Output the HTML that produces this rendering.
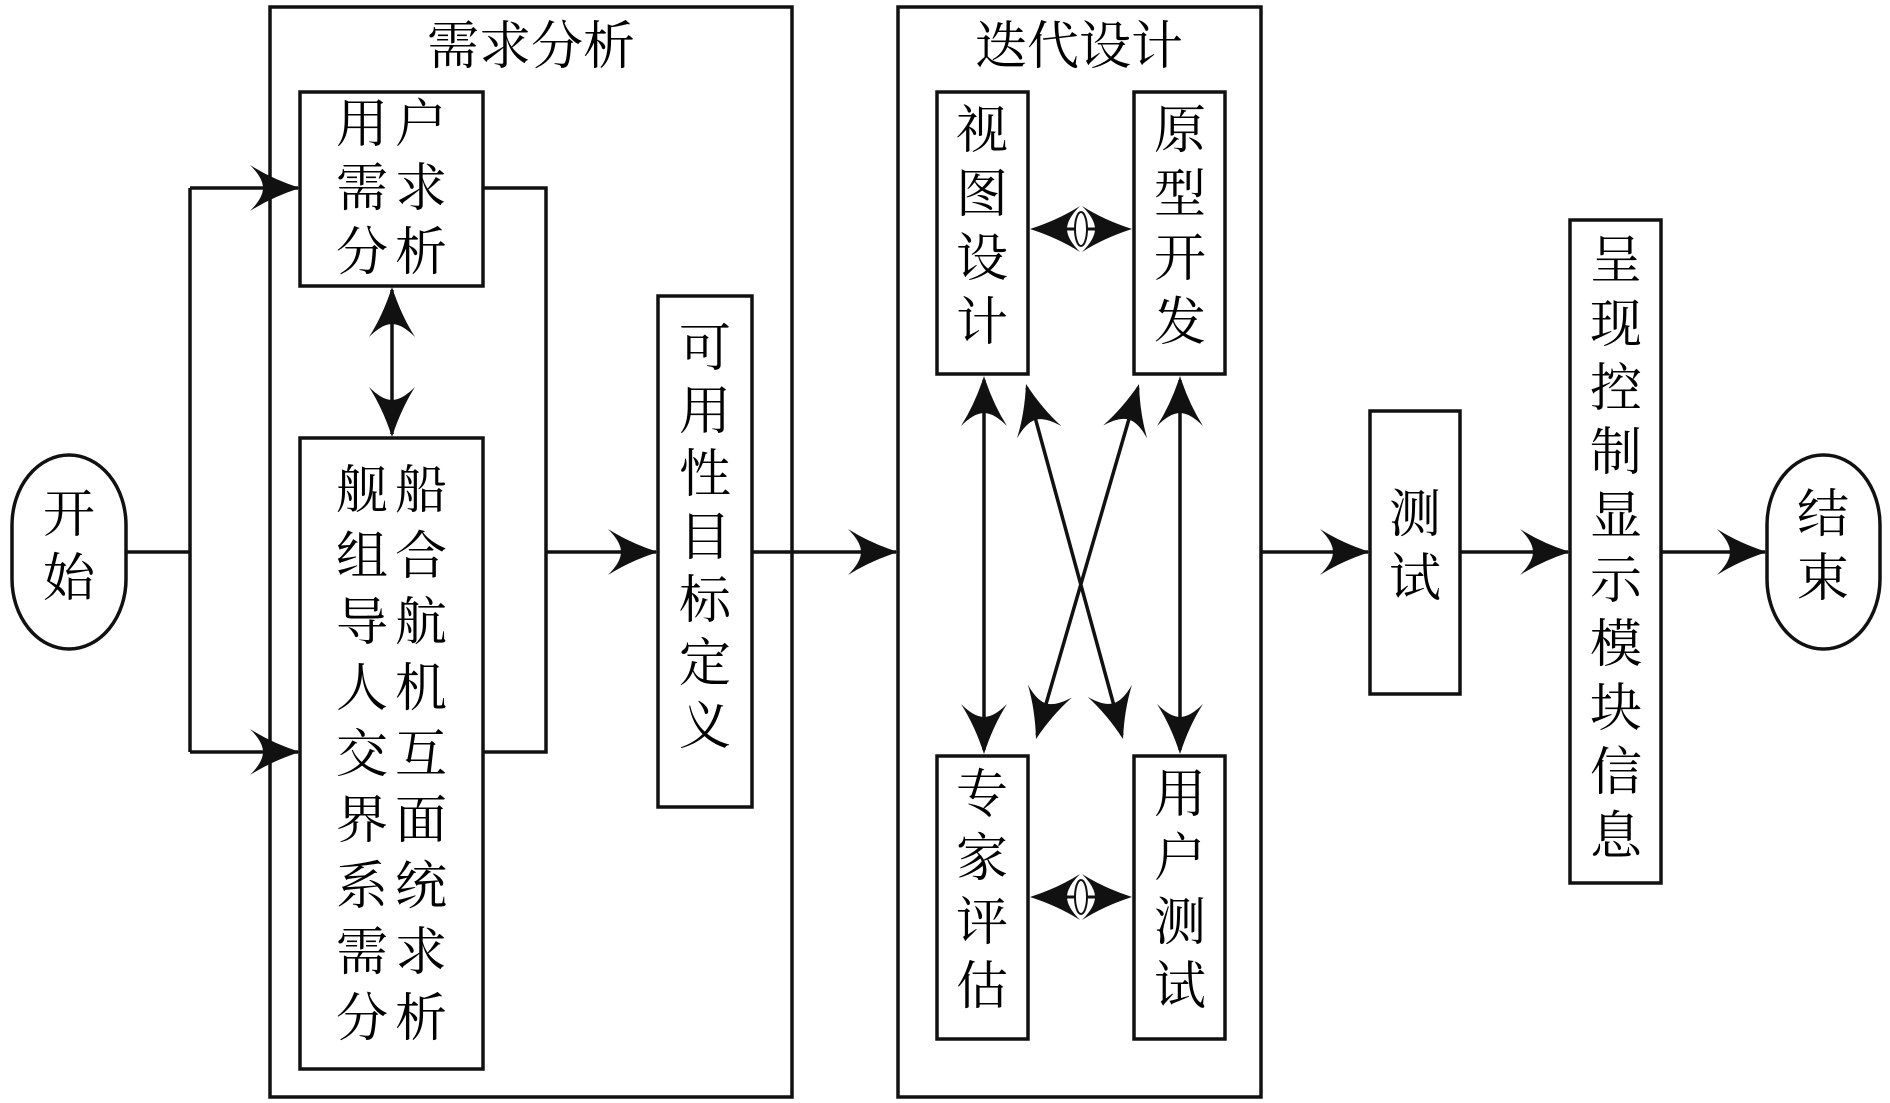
<!DOCTYPE html>
<html><head><meta charset="utf-8"><style>
html,body{margin:0;padding:0;background:#fff;}
body{width:1890px;height:1103px;position:relative;overflow:hidden;}
svg{position:absolute;left:0;top:0;}
text{font-family:"Liberation Serif","Noto Serif CJK SC",serif;font-size:52px;fill:#000;}
</style></head><body>
<svg width="1890" height="1103" viewBox="0 0 1890 1103">
<defs>
<path id="ah" d="M0,0 Q-28,-9 -50,-23 Q-37,-10 -37,0 Q-37,10 -50,23 Q-28,9 0,0Z" fill="#111"/>
</defs>
<g fill="none" stroke="#111" stroke-width="3.5">
<!-- ovals -->
<rect x="12" y="455" width="114" height="194" rx="57" ry="70"/>
<rect x="1767" y="455" width="113" height="194" rx="56" ry="70"/>
<!-- containers -->
<rect x="270" y="7" width="522" height="1090"/>
<rect x="898" y="7" width="363" height="1090"/>
<!-- boxes -->
<rect x="300" y="92" width="183" height="194"/>
<rect x="300" y="438" width="183" height="631"/>
<rect x="658" y="296" width="94" height="511"/>
<rect x="937" y="92" width="91" height="282"/>
<rect x="1134" y="92" width="91" height="282"/>
<rect x="937" y="756" width="91" height="283"/>
<rect x="1134" y="756" width="91" height="283"/>
<rect x="1370" y="411" width="90" height="283"/>
<rect x="1570" y="220" width="91" height="663"/>
<!-- lines -->
<path d="M126,552 H190 M190,188 V752 M190,188 H298 M190,752 H298"/>
<path d="M483,188 H546 V752 H483 M546,552 H656"/>
<path d="M752,552 H896"/>
<path d="M392,290 V434"/>
<path d="M1261,552 H1368 M1460,552 H1568 M1661,552 H1765"/>
<path d="M984,380 V750 M1180,380 V750"/>
<path d="M1027,388 L1122,735 M1138,388 L1037,735"/>
</g>
<g>
<use href="#ah" transform="translate(300,188)"/>
<use href="#ah" transform="translate(300,752)"/>
<use href="#ah" transform="translate(658,552)"/>
<use href="#ah" transform="translate(898,552)"/>
<use href="#ah" transform="translate(1370,552)"/>
<use href="#ah" transform="translate(1570,552)"/>
<use href="#ah" transform="translate(1767,552)"/>
<use href="#ah" transform="translate(392,287) rotate(-90)"/>
<use href="#ah" transform="translate(392,437) rotate(90)"/>
<use href="#ah" transform="translate(984,376) rotate(-90)"/>
<use href="#ah" transform="translate(984,754) rotate(90)"/>
<use href="#ah" transform="translate(1180,376) rotate(-90)"/>
<use href="#ah" transform="translate(1180,754) rotate(90)"/>
<use href="#ah" transform="translate(1026,384) rotate(254.7)"/>
<use href="#ah" transform="translate(1123,739) rotate(74.7)"/>
<use href="#ah" transform="translate(1139,384) rotate(-73.8)"/>
<use href="#ah" transform="translate(1036,739) rotate(106.2)"/>
<!-- horizontal double arrows -->
<use href="#ah" transform="translate(1030,229) rotate(180)"/>
<use href="#ah" transform="translate(1132,229)"/>
<use href="#ah" transform="translate(1030,897) rotate(180)"/>
<use href="#ah" transform="translate(1132,897)"/>
<path d="M1067,229 H1095 M1067,897 H1095" stroke="#111" stroke-width="3"/>
<ellipse cx="1081" cy="229" rx="6" ry="17" fill="#fff" stroke="#111" stroke-width="2"/>
<ellipse cx="1081" cy="897" rx="6" ry="17" fill="#fff" stroke="#111" stroke-width="2"/>
</g>
<!-- text -->
<text x="531" y="64" text-anchor="middle" font-size="54">需求分析</text>
<text x="1079" y="64" text-anchor="middle" font-size="54">迭代设计</text>
<text x="69" y="532" text-anchor="middle" font-size="54">开</text>
<text x="69" y="596" text-anchor="middle" font-size="54">始</text>
<text x="1823" y="532" text-anchor="middle" font-size="54">结</text>
<text x="1823" y="596" text-anchor="middle" font-size="54">束</text>
<g font-size="54" text-anchor="middle">
<text x="362" y="142">用</text><text x="421" y="142">户</text>
<text x="362" y="206">需</text><text x="421" y="206">求</text>
<text x="362" y="270">分</text><text x="421" y="270">析</text>
<text x="362" y="508">舰</text><text x="421" y="508">船</text>
<text x="362" y="574">组</text><text x="421" y="574">合</text>
<text x="362" y="640">导</text><text x="421" y="640">航</text>
<text x="362" y="706">人</text><text x="421" y="706">机</text>
<text x="362" y="772">交</text><text x="421" y="772">互</text>
<text x="362" y="838">界</text><text x="421" y="838">面</text>
<text x="362" y="904">系</text><text x="421" y="904">统</text>
<text x="362" y="970">需</text><text x="421" y="970">求</text>
<text x="362" y="1036">分</text><text x="421" y="1036">析</text>
<text x="705" y="366">可</text>
<text x="705" y="429">用</text>
<text x="705" y="492">性</text>
<text x="705" y="555">目</text>
<text x="705" y="618">标</text>
<text x="705" y="681">定</text>
<text x="705" y="744">义</text>
<text x="982" y="148">视</text>
<text x="982" y="212">图</text>
<text x="982" y="276">设</text>
<text x="982" y="340">计</text>
<text x="1180" y="148">原</text>
<text x="1180" y="212">型</text>
<text x="1180" y="276">开</text>
<text x="1180" y="340">发</text>
<text x="982" y="812">专</text>
<text x="982" y="876">家</text>
<text x="982" y="940">评</text>
<text x="982" y="1004">估</text>
<text x="1180" y="812">用</text>
<text x="1180" y="876">户</text>
<text x="1180" y="940">测</text>
<text x="1180" y="1004">试</text>
<text x="1415" y="532">测</text>
<text x="1415" y="596">试</text>
<text x="1616" y="278">呈</text>
<text x="1616" y="342">现</text>
<text x="1616" y="406">控</text>
<text x="1616" y="470">制</text>
<text x="1616" y="534">显</text>
<text x="1616" y="598">示</text>
<text x="1616" y="662">模</text>
<text x="1616" y="726">块</text>
<text x="1616" y="790">信</text>
<text x="1616" y="854">息</text>
</g>
</svg>
</body></html>
